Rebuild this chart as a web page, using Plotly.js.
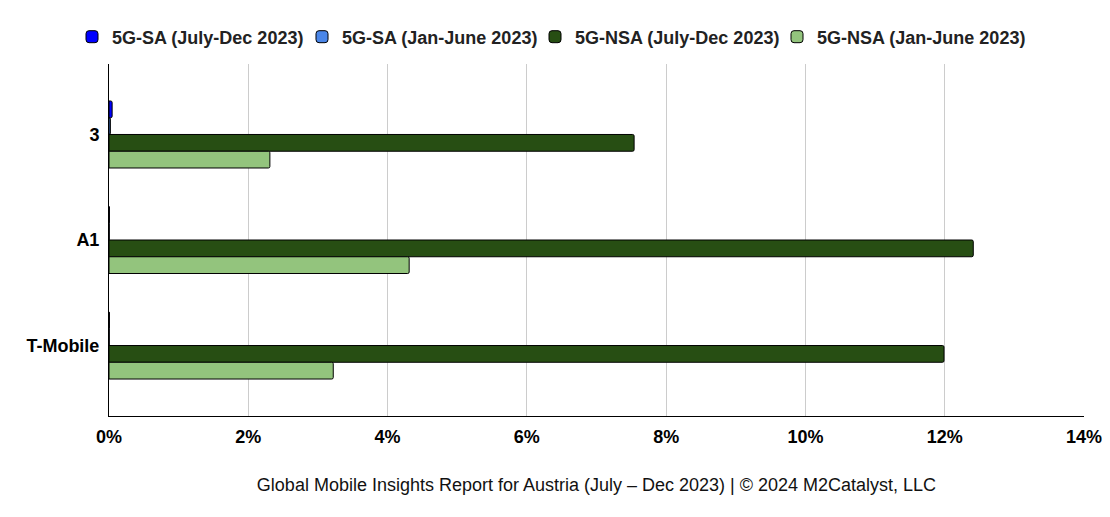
<!DOCTYPE html>
<html>
<head>
<meta charset="utf-8">
<script src="https://cdn.plot.ly/plotly-3.0.1.min.js"></script>
<style>
  html, body { margin: 0; padding: 0; background: #fff; }
  #chart { width: 1110px; height: 517px; }
</style>
</head>
<body>
<div id="chart"></div>
<script>
// operators, top to bottom
const operators = ['3', 'A1', 'T-Mobile'];

// share of time on each network type (%)
const saJulDec = [0.045, 0.006, 0.006];
const saJanJun = [0.02, 0.004, 0.004];
const nsaJulDec = [7.54, 12.41, 11.99];
const nsaJanJun = [2.31, 4.31, 3.22];

const seriesNames = [
    '5G-SA (July-Dec 2023)',
    '5G-SA (Jan-June 2023)',
    '5G-NSA (July-Dec 2023)',
    '5G-NSA (Jan-June 2023)'
];
const seriesColors = ['#0000ff', '#4a86e8', '#274e13', '#93c47d'];

const xTicks = [0, 2, 4, 6, 8, 10, 12, 14];

// one legend box per series so the entries sit where the original has them
const legendIds = ['legend', 'legend2', 'legend3', 'legend4'];
const legendLeft = [72, 302, 535, 777];

function makeTrace(values, i) {
    return {
        type: 'bar',
        orientation: 'h',
        name: seriesNames[i],
        legend: legendIds[i],
        x: values,
        y: operators,
        marker: {
            color: seriesColors[i],
            line: { color: '#000', width: 1 },
            cornerradius: 1.5
        },
        hovertemplate: '%{y}: %{x:.2f}%<extra>' + seriesNames[i] + '</extra>'
    };
}

const traces = [saJulDec, saJanJun, nsaJulDec, nsaJanJun].map(makeTrace);

const layout = {
    width: 1110,
    height: 517,
    paper_bgcolor: '#fff',
    plot_bgcolor: '#fff',
    font: { family: 'Liberation Sans, Arial, sans-serif', color: '#000' },
    margin: { l: 109, r: 26, t: 64, b: 101 },
    barmode: 'group',
    bargap: 0.365,
    bargroupgap: 0,
    showlegend: true,
    xaxis: {
        range: [0, 14],
        tickvals: xTicks,
        ticktext: xTicks.map(v => v + '%'),
        showgrid: true,
        gridcolor: '#cccccc',
        gridwidth: 1,
        zeroline: false,
        showline: true,
        linecolor: '#000',
        linewidth: 1,
        ticks: '',
        ticklabelstandoff: 4,
        tickfont: { size: 18, color: '#000', weight: 'bold' },
        fixedrange: true,
        title: {
            text: 'Global Mobile Insights Report for Austria (July \u2013 Dec 2023) | \u00a9 2024 M2Catalyst, LLC',
            font: { size: 18, color: '#111' },
            standoff: 32
        }
    },
    yaxis: {
        type: 'category',
        range: [2.668, -0.668],
        showgrid: false,
        zeroline: false,
        showline: true,
        linecolor: '#000',
        linewidth: 1,
        ticks: '',
        ticklabelstandoff: 5,
        tickfont: { size: 18, color: '#000', weight: 'bold' },
        fixedrange: true
    }
};

legendIds.forEach((id, i) => {
    layout[id] = {
        orientation: 'h',
        xref: 'container',
        yref: 'container',
        x: legendLeft[i] / 1110,
        y: 1 - 37 / 517,
        yanchor: 'middle',
        bgcolor: 'rgba(0,0,0,0)',
        font: { size: 18, color: '#222', weight: 'bold' },
        itemclick: false,
        itemdoubleclick: false
    };
});

Plotly.newPlot('chart', traces, layout, { displayModeBar: false });
</script>
</body>
</html>
